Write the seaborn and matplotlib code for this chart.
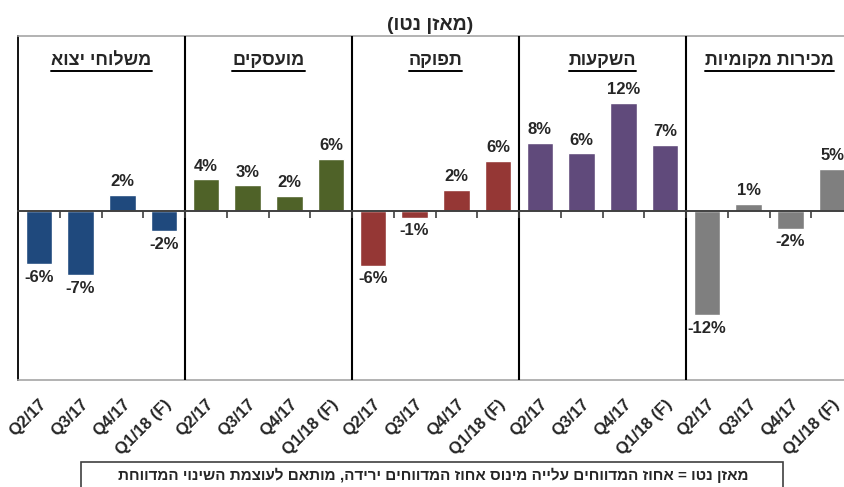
import numpy as np
import pandas as pd
import seaborn as sns
import matplotlib.pyplot as plt
from matplotlib.lines import Line2D

sns.set_style("white")
plt.rcParams['font.family'] = ['Liberation Sans', 'DejaVu Sans']
plt.rcParams['font.weight'] = 'bold'

# data (net balance, %)
groups = ["משלוחי יצוא", "מועסקים", "תפוקה", "השקעות", "מכירות מקומיות"]
quarters = ["Q2/17", "Q3/17", "Q4/17", "Q1/18 (F)"]
exports = [-6.0, -7.25, 1.8, -2.3]
employed = [3.55, 2.9, 1.7, 5.85]
output = [-6.15, -0.75, 2.4, 5.65]
investment = [7.65, 6.45, 12.15, 7.4]
local_sales = [-11.75, 0.8, -2.0, 4.75]
colors = ["#1F497D", "#4F6228", "#953735", "#604A7B", "#7F7F7F"]

title = "(מאזן נטו)"
footnote = "מאזן נטו = אחוז המדווחים עלייה מינוס אחוז המדווחים ירידה, מותאם לעוצמת השינוי המדווחת"


def rtl(s):
    # matplotlib has no bidi support: lay the Hebrew out in visual order
    mirror = {"(": ")", ")": "("}
    return "".join(mirror.get(c, c) for c in s[::-1])


series = [exports, employed, output, investment, local_sales]
rows = []
for g, vals in zip(groups, series):
    for q, v in zip(quarters, vals):
        rows.append({"group": g, "quarter": q, "key": g + "|" + q, "value": v})
df = pd.DataFrame(rows)
order = df["key"].tolist()

W, H = 845, 487
top_px, bot_px = 36, 380
fig = plt.figure(figsize=(W / 100, H / 100), dpi=100)
ax = fig.add_axes([18 / W, (H - bot_px) / H, 835 / W, (bot_px - top_px) / H])

sns.barplot(data=df, x="key", y="value", hue="group", order=order,
            hue_order=groups, palette=colors, dodge=False, width=0.64,
            saturation=1, legend=False, ax=ax)

ax.set_xlim(-0.5, len(order) - 0.5)
ax.set_ylim(-19, 19.65)
ax.set_xlabel("")
ax.set_ylabel("")
ax.set_yticks([])
ax.set_xticks(range(len(order)))
ax.set_xticklabels(df["quarter"], rotation=45, ha="right",
                   rotation_mode="anchor", fontsize=12, fontweight="bold")
ax.tick_params(axis="x", length=0, pad=12)

ax.spines["left"].set_color("black")
ax.spines["left"].set_linewidth(1.3)
ax.spines["right"].set_visible(False)
for sp in ["top", "bottom"]:
    ax.spines[sp].set_color("#a6a6a6")
    ax.spines[sp].set_linewidth(1.2)

# group separators
for i in range(1, len(groups)):
    ax.axvline(i * len(quarters) - 0.5, color="black", lw=1.5, zorder=4)

# zero line with small category ticks
ax2 = ax.twiny()
ax2.set_xlim(ax.get_xlim())
ax2.spines["top"].set_position(("data", 0))
ax2.spines["top"].set_color("#404040")
ax2.spines["top"].set_linewidth(1.4)
for sp in ["left", "right", "bottom"]:
    ax2.spines[sp].set_visible(False)
ax2.set_xticks(np.arange(0.5, len(order) - 1, 1))
ax2.tick_params(axis="x", direction="in", length=5, width=1.2,
                color="#404040", labeltop=False)

for cont in ax.containers:
    ax.bar_label(cont, fmt=lambda v: f"{v:.0f}%", padding=4,
                 fontsize=12, fontweight="bold")

# group headings, underlined
heads = []
for i, g in enumerate(groups):
    t = ax.text(i * len(quarters) + 1.5, 1 - (61 - top_px) / (bot_px - top_px), rtl(g),
                ha="center", va="center", fontsize=13, fontweight="bold",
                transform=ax.get_xaxis_transform())
    heads.append(t)

fig.text(430 / W, 1 - 25 / H, rtl(title), ha="center", va="center",
         fontsize=14, fontweight="bold")

fig.text(433 / W, 1 - 475 / H, rtl(footnote), ha="center", va="center",
         fontsize=11, fontweight="bold")
fig.add_artist(plt.Rectangle((81 / W, -0.05), (783 - 81) / W, 0.05 + (H - 462) / H,
                             transform=fig.transFigure, fill=False,
                             edgecolor="#404040", lw=1.2))

fig.canvas.draw()
r = fig.canvas.get_renderer()
for t in heads:
    bb = t.get_window_extent(r)
    yl = (bb.y0 - 1.0) / H
    fig.add_artist(Line2D([bb.x0 / W, bb.x1 / W], [yl, yl], color="black", lw=1.4))

fig.savefig("out.png", dpi=100)
